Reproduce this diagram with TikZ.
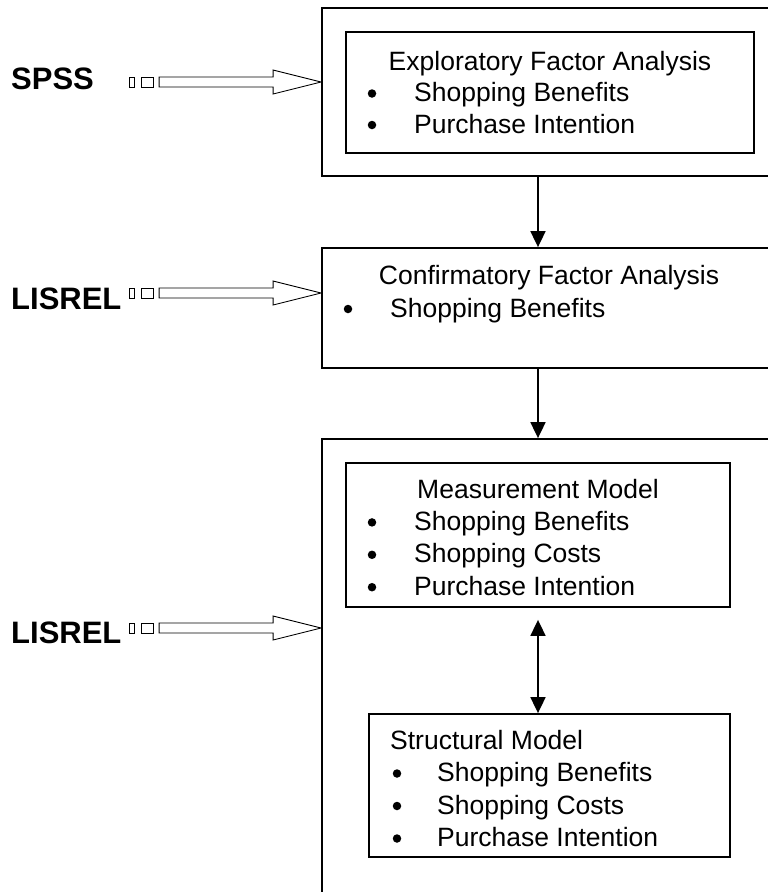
\documentclass[tikz,border=0pt]{standalone}
\usepackage{fontspec}
\setmainfont{Liberation Sans}
\usetikzlibrary{
arrows.meta,
calc,
positioning
}
\tikzset{>={Triangle[length=16pt,width=15pt]}}
\tikzset{
	box/.style={draw, line width=1.8pt, inner sep=0pt},
	conn/.style={line width=1.8pt},
	thinline/.style={line width=0.9pt},
	program/.style={font={\bfseries\fontsize{31}{36}\selectfont}, anchor=base west},
	dot/.style={circle, fill, minimum size=8.5pt, inner sep=0pt},
	entry/.style={anchor=base west}
}
\newcommand{\stripedarrow}[1]{%
	\draw[thinline] ($(#1)+(-192,-5)$) rectangle ($(#1)+(-187,5)$);
	\draw[thinline] ($(#1)+(-180,-5)$) rectangle ($(#1)+(-168,5)$);
	\draw[thinline] ($(#1)+(-162,-5)$) -- ($(#1)+(-48,-5)$) -- ($(#1)+(-48,-12)$) -- (#1)
		-- ($(#1)+(-48,12)$) -- ($(#1)+(-48,5)$) -- ($(#1)+(-162,5)$) -- cycle;
}

\begin{document}
\begin{tikzpicture}[x=1pt, y=-1pt, font={\fontsize{26.5}{32}\selectfont}, every node/.style={inner sep=0pt}]
		\clip (0,0) rectangle (768,892);
		
		\node[box, minimum width=500pt, minimum height=168pt] (efaouter) at (572,92) {};
		\node[box, minimum width=500pt, minimum height=120pt] (cfa) at (572,308) {};
		\node[box, minimum width=500pt, minimum height=521pt] (semouter) at (572,699.5) {};
		
		\node[box, minimum width=408pt, minimum height=121pt] (efa) at (550,92.5) {};
		\node[box, minimum width=384pt, minimum height=144pt] (mm) at (538,535) {};
		\node[box, minimum width=361pt, minimum height=143pt] (sm) at (549.5,785.5) {};
		
		\node[anchor=base] (efatitle) at (550,70) {Exploratory Factor Analysis};
		\foreach \txt [count=\i] in {Shopping Benefits, Purchase Intention} {
			\node[dot] (efadot\i) at (372,{62+31.5*\i}) {};
			\node[entry] (efaitem\i) at (414,{70+31.5*\i}) {\txt};
		}
		
		\node[anchor=base] (cfatitle) at (549,284) {Confirmatory Factor Analysis};
		\node[dot] (cfadot1) at (348,309) {};
		\node[entry] (cfaitem1) at (390,317) {Shopping Benefits};
		
		\node[anchor=base] (mmtitle) at (538,498) {Measurement Model};
		\foreach \txt [count=\i] in {Shopping Benefits, Shopping Costs, Purchase Intention} {
			\node[dot] (mmdot\i) at (372,{490+32.4*\i}) {};
			\node[entry] (mmitem\i) at (414,{498+32.4*\i}) {\txt};
		}
		
		\node[entry] (smtitle) at (390,749) {Structural Model};
		\foreach \txt [count=\i] in {Shopping Benefits, Shopping Costs, Purchase Intention} {
			\node[dot] (smdot\i) at (397,{741+32.5*\i}) {};
			\node[entry] (smitem\i) at (437,{749+32.5*\i}) {\txt};
		}
		
		\node[program] (spss) at (11,89) {SPSS};
		\node[program] (lisrelcfa) at (11,309) {LISREL};
		\node[program] (lisrelsem) at (11,643) {LISREL};
		
		\coordinate (spsstip) at ($(efaouter.west)+(0,-10)$);
		\coordinate (cfatip) at ($(cfa.west)+(0,-15)$);
		\coordinate (semtip) at ($(semouter.west)+(0,-71.5)$);
		\stripedarrow{spsstip}
		\stripedarrow{cfatip}
		\stripedarrow{semtip}
		
		\coordinate (axis) at (538,0);
		\draw[->, conn] (efaouter.south -| axis) -- (cfa.north -| axis);
		\draw[->, conn] (cfa.south -| axis) -- (semouter.north -| axis);
		\draw[<->, conn, shorten <=12pt] (mm.south -| axis) -- (sm.north -| axis);
	\end{tikzpicture}
\end{document}
